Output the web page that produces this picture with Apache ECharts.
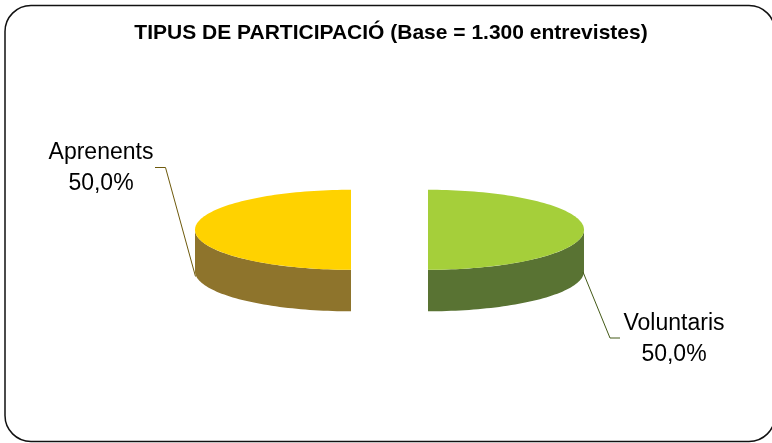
<!DOCTYPE html>
<html>
<head>
<meta charset="utf-8">
<style>html,body{margin:0;padding:0;background:#fff}</style>
<script src="https://cdn.jsdelivr.net/npm/echarts@6/dist/echarts.min.js"></script>
</head>
<body>
<div id="chart" style="width:772px;height:443px"></div>
<script>
// values
var categories = ['Voluntaris', 'Aprenents'];
var shares = [50.0, 50.0];
var titleText = 'TIPUS DE PARTICIPACIÓ (Base = 1.300 entrevistes)';

var topColors = ['#A5CF3A', '#FFD200'];
var sideColors = ['#597333', '#8E742C'];
var leaderColors = ['#445A18', '#6E5A0C'];

// pie layout
var cx = 389.5, cy = 229.8, rx = 156, ry = 40, depth = 41.5, explode = 38.5;
// label centre + leader line for each slice
var labelPos = [[674, 339], [101, 168.5]];
var leaders = [
    [[583, 272], [610, 338], [620, 338]],
    [[195.5, 276.5], [165.5, 167.5], [155, 167.5]]
];

var total = shares.reduce(function(a, b){ return a + b; }, 0);

function arcPoints(x0, y0, from, to){
    var pts = [];
    var steps = Math.max(2, Math.ceil(Math.abs(to - from) / 0.03));
    for(var i = 0; i <= steps; i++){
        var a = from + (to - from) * i / steps;
        pts.push([x0 + rx * Math.sin(a), y0 - ry * Math.cos(a)]);
    }
    return pts;
}

function renderSlice(params, api){
    var i = params.dataIndex;
    var before = 0;
    for(var k = 0; k < i; k++){ before += shares[k]; }
    var from = before / total * Math.PI * 2;
    var to = (before + api.value(0)) / total * Math.PI * 2;
    var mid = (from + to) / 2;
    var x0 = cx + explode * Math.sin(mid);
    var y0 = cy - explode * Math.cos(mid) * ry / rx;

    // side wall = part of the rim facing the viewer
    var wallFrom = Math.max(from, Math.PI / 2);
    var wallTo = Math.min(to, Math.PI * 1.5);
    var upper = arcPoints(x0, y0, wallFrom, wallTo);
    var lower = arcPoints(x0, y0 + depth, wallFrom, wallTo).reverse();

    var top = arcPoints(x0, y0, from, to);
    top.push([x0, y0]);

    var value = api.value(0).toFixed(1).replace('.', ',') + '%';

    return {
        type: 'group',
        children: [
            { type: 'polygon', shape: { points: upper.concat(lower) }, style: { fill: sideColors[i] } },
            { type: 'polygon', shape: { points: top }, style: { fill: topColors[i] } },
            { type: 'polyline', shape: { points: leaders[i] }, style: { fill: null, stroke: leaderColors[i], lineWidth: 1 } },
            { type: 'text', x: labelPos[i][0], y: labelPos[i][1], style: {
                text: categories[i] + '\n' + value,
                fill: '#000',
                font: '23px "Liberation Sans"',
                align: 'center',
                verticalAlign: 'middle',
                lineHeight: 31
            } }
        ]
    };
}

var myChart = echarts.init(document.getElementById('chart'));
myChart.setOption({
    animation: false,
    backgroundColor: '#fff',
    title: {
        text: titleText,
        left: 391,
        top: 18,
        textAlign: 'center',
        padding: [5, 10, 5, 0],
        textStyle: { fontFamily: 'Liberation Sans', fontWeight: 'bold', fontSize: 21, color: '#000' }
    },
    graphic: [{
        type: 'rect',
        silent: true,
        shape: { x: 5, y: 5.5, width: 770, height: 436, r: 26 },
        style: { fill: null, stroke: '#111', lineWidth: 1.5 }
    }],
    series: [{
        type: 'custom',
        coordinateSystem: 'none',
        renderItem: renderSlice,
        data: shares.map(function(v, i){ return { name: categories[i], value: [v] }; })
    }]
});
</script>
</body>
</html>
